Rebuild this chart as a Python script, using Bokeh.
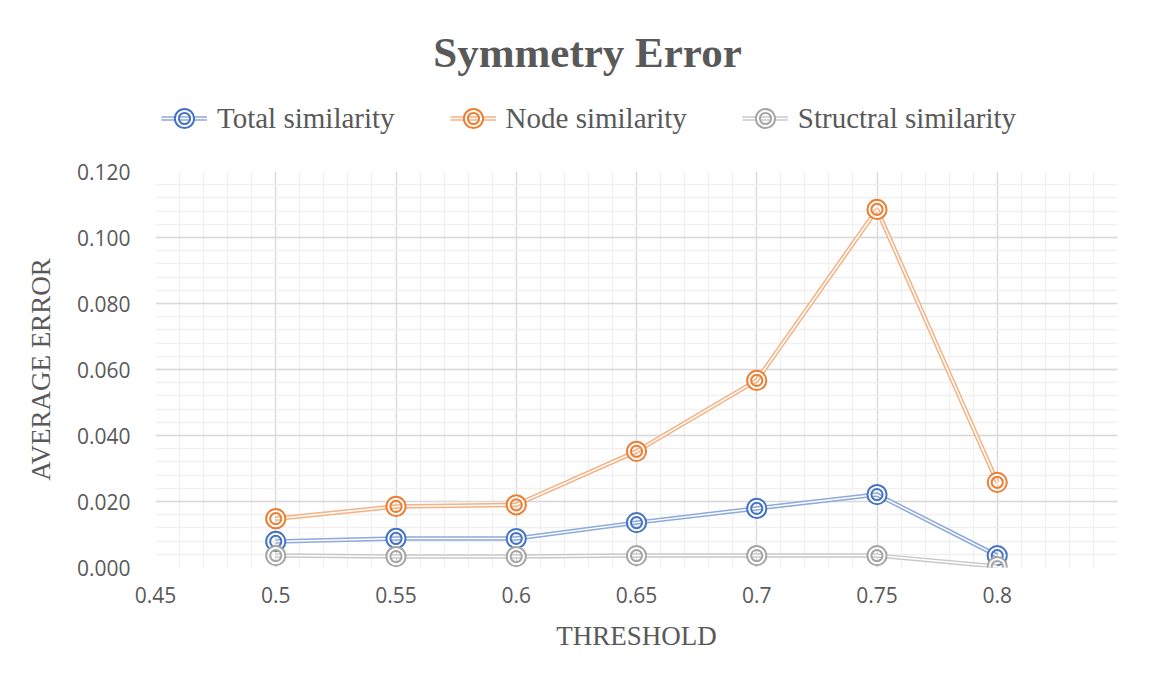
from bokeh.plotting import figure
from bokeh.layouts import column
from bokeh.models import (Legend, LegendItem, SingleIntervalTicker, NumeralTickFormatter,
                          Range1d, Label)
from bokeh.embed import file_html
from bokeh.resources import INLINE

threshold = [0.5, 0.55, 0.6, 0.65, 0.7, 0.75, 0.8]
total_sim = [0.0079, 0.0088, 0.0088, 0.0136, 0.0179, 0.0221, 0.0036]
node_sim = [0.0148, 0.0185, 0.0190, 0.0352, 0.0567, 0.1085, 0.0258]
struct_sim = [0.0036, 0.0033, 0.0033, 0.0036, 0.0036, 0.0036, 0.0003]
series_names = ["Total similarity", "Node similarity", "Structral similarity"]
x_tick_vals = [0.45, 0.5, 0.55, 0.6, 0.65, 0.7, 0.75, 0.8, 0.85]
x_tick_labels = ["0.45", "0.5", "0.55", "0.6", "0.65", "0.7", "0.75", "0.8", "0.85"]
title_text = "Symmetry Error"

marker_colors = ["#4472C4", "#ED7D31", "#A5A5A5"]
line_colors = ["#8EA9DB", "#F4B183", "#C9C9C9"]

SERIF = "Liberation Serif"
SANS = "Open Sans"
TXT = "#595959"

W, H = 1155, 675
HTOP = 148
HB = H - HTOP
LEFT, FW, FH = 155, 962, 396
TOP = 171 - HTOP
RIGHT, BOTTOM = W - LEFT - FW, HB - TOP - FH

GLYPH_H = 38
MSIZE = GLYPH_H * 0.4   # legend draws markers at 0.4 x glyph box, so plot and legend match


def add_series(fig, xs, ys, mc, lc):
    r1 = fig.line(xs, ys, line_color=lc, line_width=4.5)
    r2 = fig.line(xs, ys, line_color="white", line_width=1.5)
    r3 = fig.scatter(xs, ys, marker="circle", size=MSIZE, fill_color=None,
                     line_color=mc, line_width=6)
    r4 = fig.scatter(xs, ys, marker="circle", size=MSIZE, fill_color=None,
                     line_color="white", line_width=2)
    return [r1, r2, r3, r4]


# ---- header figure (title + legend); its frame is aligned with the main frame ----
ph = figure(width=W, height=HTOP, output_backend="svg", toolbar_location=None,
            x_range=Range1d(LEFT, LEFT + FW), y_range=Range1d(0, HTOP),
            x_axis_type=None, y_axis_type=None,
            min_border_left=LEFT, min_border_right=RIGHT,
            min_border_top=0, min_border_bottom=0)
ph.outline_line_color = None
ph.xgrid.visible = False
ph.ygrid.visible = False

title = Label(x=587, y=HTOP - 52, text=title_text,
              text_font=SERIF, text_font_size="43px", text_font_style="bold",
              text_color=TXT, text_align="center", text_baseline="middle")
ph.add_layout(title)

# ---- main figure ----
p = figure(width=W, height=HB, output_backend="svg", toolbar_location=None,
           x_range=Range1d(0.45, 0.85), y_range=Range1d(0, 0.12),
           min_border_left=LEFT, min_border_right=RIGHT, min_border_top=TOP,
           min_border_bottom=BOTTOM)
p.outline_line_color = None
p.background_fill_color = "white"
p.border_fill_color = "white"

p.xaxis.ticker = SingleIntervalTicker(interval=0.05, num_minor_ticks=5)
p.yaxis.ticker = SingleIntervalTicker(interval=0.02, num_minor_ticks=5)
p.yaxis.formatter = NumeralTickFormatter(format="0.000")
p.xaxis.major_label_overrides = {v: l for v, l in zip(x_tick_vals, x_tick_labels)}

for ax in (p.xaxis, p.yaxis):
    ax.axis_line_color = None
    ax.major_tick_line_color = None
    ax.minor_tick_line_color = None
    ax.major_label_text_font = SANS
    ax.major_label_text_font_size = "21px"
    ax.major_label_text_color = TXT
    ax.axis_label_text_font = SERIF
    ax.axis_label_text_font_size = "27px"
    ax.axis_label_text_font_style = "normal"
    ax.axis_label_text_color = TXT
p.xaxis.axis_label = "THRESHOLD"
p.yaxis.axis_label = "AVERAGE ERROR"
p.xaxis.major_label_standoff = 13
p.yaxis.major_label_standoff = 19
p.xaxis.axis_label_standoff = 15
p.yaxis.axis_label_standoff = 18

for g in (p.xgrid, p.ygrid):
    g.grid_line_color = "#D9D9D9"
    g.grid_line_width = 1.3
    g.minor_grid_line_color = "#F0F0F0"
    g.minor_grid_line_width = 1.3

items = []
for name, ys, mc, lc in zip(series_names, [total_sim, node_sim, struct_sim], marker_colors, line_colors):
    add_series(p, threshold, ys, mc, lc)
    # legend proxies in header (their data fall outside the header frame, so only the legend shows them)
    proxies = add_series(ph, threshold, ys, mc, lc)
    items.append(LegendItem(label=name, renderers=proxies))

legend = Legend(items=items, orientation="horizontal",
                location=(6, HTOP - 114 - (GLYPH_H + 8) // 2),
                label_text_font=SERIF, label_text_font_size="29px", label_text_color=TXT,
                glyph_width=46, glyph_height=GLYPH_H, spacing=55, label_standoff=10,
                border_line_color=None, background_fill_alpha=0, padding=4, margin=0)
ph.add_layout(legend, "center")

layout = column(ph, p, spacing=0)
open("out.html", "w").write(file_html(layout, INLINE))
